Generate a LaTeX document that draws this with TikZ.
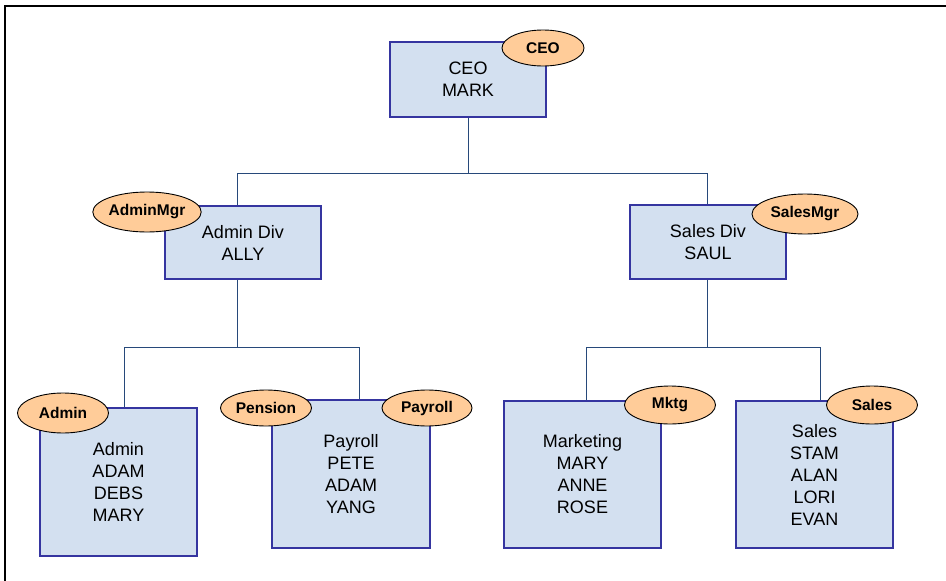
\documentclass[tikz,border=0pt]{standalone}
\usepackage{fontspec}
\setmainfont{Liberation Sans}
\usetikzlibrary{shapes.geometric}

\definecolor{boxfill}{HTML}{D3E0F0}
\definecolor{boxedge}{HTML}{3535A0}
\definecolor{tagfill}{HTML}{FFCC99}
\definecolor{wire}{HTML}{27497A}

\tikzset{
  unit/.style={draw=boxedge, fill=boxfill, line width=2.4pt, align=center,
    inner sep=0pt, font=\fontsize{18}{22}\selectfont, text=black},
  role/.style={ellipse, draw=black, fill=tagfill, line width=0.9pt,
    inner sep=0pt, font=\fontsize{15.5}{18}\selectfont\bfseries},
  wiring/.style={draw=wire, line width=1pt},
  frameline/.style={draw=black, line width=1.3pt}
}

\begin{document}
\begin{tikzpicture}[x=1pt, y=-1pt]
\useasboundingbox (0,0) rectangle (946,581);

% outer frame (top and left edges)
\coordinate (fTL) at (5,6);
\coordinate (fTR) at (946,6);
\coordinate (fBL) at (5,581);
\draw[frameline] (fBL) -- (fTL) -- (fTR);

% organisational units
\node[unit, minimum width=156pt, minimum height=75pt]  (ceo)      at (468,79.5)  {CEO\\MARK};
\node[unit, minimum width=156pt, minimum height=73pt]  (admindiv) at (243,242.5) {Admin Div\\ALLY};
\node[unit, minimum width=156pt, minimum height=74pt]  (salesdiv) at (708,242)   {Sales Div\\SAUL};
\node[unit, minimum width=157pt, minimum height=148pt] (admin)    at (118.5,482) {Admin\\ADAM\\DEBS\\MARY};
\node[unit, minimum width=158pt, minimum height=148pt] (payroll)  at (351,474)   {Payroll\\PETE\\ADAM\\YANG};
\node[unit, minimum width=157pt, minimum height=147pt] (mktg)     at (582.5,474.5) {Marketing\\MARY\\ANNE\\ROSE};
\node[unit, minimum width=157pt, minimum height=147pt] (sales)    at (814.5,474.5) {Sales\\STAM\\ALAN\\LORI\\EVAN};

% junctions of the reporting lines
\coordinate (busTop)   at (468,173);
\coordinate (busAdmin) at (237,347);
\coordinate (busSales) at (707,347);

\draw[wiring] (ceo.south) -- (busTop);
\draw[wiring] (busTop) -| ([xshift=-6pt]admindiv.north);
\draw[wiring] (busTop) -| ([xshift=-1pt]salesdiv.north);

\draw[wiring] ([xshift=-6pt]admindiv.south) -- (busAdmin);
\draw[wiring] (busAdmin) -| ([xshift=5.5pt]admin.north);
\draw[wiring] (busAdmin) -| ([xshift=8pt]payroll.north);

\draw[wiring] ([xshift=-1pt]salesdiv.south) -- (busSales);
\draw[wiring] (busSales) -| ([xshift=3.5pt]mktg.north);
\draw[wiring] (busSales) -| ([xshift=5.5pt]sales.north);

% role tags
\node[role, minimum width=82pt,  minimum height=36pt] (rCEO)      at (543,48)  {CEO};
\node[role, minimum width=106pt, minimum height=40pt] (rAdminMgr) at (147,212) {AdminMgr};
\node[role, minimum width=106pt, minimum height=40pt] (rSalesMgr) at (805,214) {SalesMgr};
\node[role, minimum width=91pt,  minimum height=40pt] (rAdmin)    at (63,413)  {Admin};
\node[role, minimum width=91pt,  minimum height=36pt] (rPension)  at (266,408) {Pension};
\node[role, minimum width=90pt,  minimum height=36pt] (rPayroll)  at (427,408) {Payroll};
\node[role, minimum width=91pt,  minimum height=38pt] (rMktg)     at (670,405) {Mktg};
\node[role, minimum width=91pt,  minimum height=38pt] (rSales)    at (872,405) {Sales};
\end{tikzpicture}
\end{document}
